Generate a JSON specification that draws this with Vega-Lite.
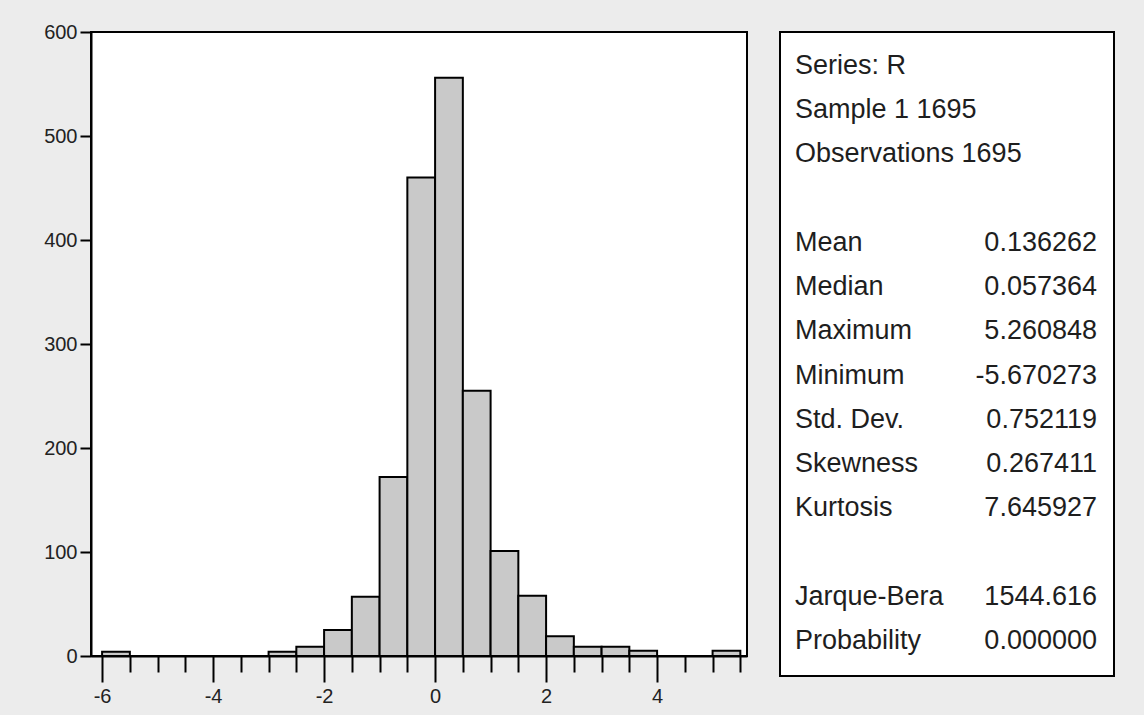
{
  "$schema": "https://vega.github.io/schema/vega-lite/v6.json",
  "background": "#ececec",
  "padding": {"left": 42, "top": 21, "right": 32, "bottom": 8},
  "bounds": "flush",
  "spacing": 33,
  "config": {
    "view": {"fill": "white", "stroke": "black", "strokeWidth": 2},
    "font": "Liberation Sans"
  },
  "hconcat": [
    {
      "width": 656,
      "height": 624,
      "data": {"values": [
        {"bin_start": -6, "bin_end": -5.5, "count": 4},
        {"bin_start": -3, "bin_end": -2.5, "count": 4},
        {"bin_start": -2.5, "bin_end": -2, "count": 9},
        {"bin_start": -2, "bin_end": -1.5, "count": 25},
        {"bin_start": -1.5, "bin_end": -1, "count": 57},
        {"bin_start": -1, "bin_end": -0.5, "count": 172},
        {"bin_start": -0.5, "bin_end": 0, "count": 460},
        {"bin_start": 0, "bin_end": 0.5, "count": 556},
        {"bin_start": 0.5, "bin_end": 1, "count": 255},
        {"bin_start": 1, "bin_end": 1.5, "count": 101},
        {"bin_start": 1.5, "bin_end": 2, "count": 58},
        {"bin_start": 2, "bin_end": 2.5, "count": 19},
        {"bin_start": 2.5, "bin_end": 3, "count": 9},
        {"bin_start": 3, "bin_end": 3.5, "count": 9},
        {"bin_start": 3.5, "bin_end": 4, "count": 5},
        {"bin_start": 5, "bin_end": 5.5, "count": 5}
      ]},
      "layer": [
        {
          "mark": {"type": "bar", "fill": "#c9c9c9", "stroke": "black", "strokeWidth": 2},
          "encoding": {
            "x": {
              "field": "bin_start",
              "type": "quantitative",
              "scale": {"domain": [-6.2, 5.62], "nice": false, "zero": false},
              "axis": {
                "orient": "bottom",
                "values": [-6, -4, -2, 0, 2, 4],
                "title": null,
                "grid": false,
                "domainColor": "black",
                "domainWidth": 2,
                "tickColor": "black",
                "tickWidth": 2,
                "tickSize": 26,
                "labelExpr": "'' + datum.value",
                "labelFontSize": 20,
                "labelPadding": 4,
                "labelColor": "#222222",
                "labelFlush": false,
                "labelOverlap": false
              }
            },
            "x2": {"field": "bin_end"},
            "y": {
              "field": "count",
              "type": "quantitative",
              "scale": {"domain": [0, 600], "nice": false},
              "axis": {
                "values": [0, 100, 200, 300, 400, 500, 600],
                "title": null,
                "grid": false,
                "domainColor": "black",
                "domainWidth": 2,
                "tickColor": "black",
                "tickWidth": 2,
                "tickSize": 11,
                "labelFontSize": 20,
                "labelPadding": 3,
                "labelColor": "#222222",
                "labelFlush": false
              }
            },
            "y2": {"datum": 0}
          }
        },
        {
          "mark": {"type": "bar", "opacity": 0},
          "encoding": {
            "x": {
              "field": "bin_start",
              "type": "quantitative",
              "axis": {
                "orient": "bottom",
                "values": [-5.5, -5, -4.5, -3.5, -3, -2.5, -1.5, -1, -0.5, 0.5, 1, 1.5, 2.5, 3, 3.5, 4.5, 5, 5.5],
                "title": null,
                "grid": false,
                "domain": false,
                "labels": false,
                "tickColor": "black",
                "tickWidth": 2,
                "tickSize": 16
              }
            },
            "x2": {"field": "bin_end"},
            "y": {"field": "count", "type": "quantitative"},
            "y2": {"datum": 0}
          }
        }
      ],
      "resolve": {"axis": {"x": "independent"}}
    },
    {
      "width": 334,
      "height": 644,
      "data": {"values": [
        {"row": 0, "label": "Series: R", "value": ""},
        {"row": 1, "label": "Sample 1 1695", "value": ""},
        {"row": 2, "label": "Observations 1695", "value": ""},
        {"row": 4, "label": "Mean", "value": "0.136262"},
        {"row": 5, "label": "Median", "value": "0.057364"},
        {"row": 6, "label": "Maximum", "value": "5.260848"},
        {"row": 7, "label": "Minimum", "value": "-5.670273"},
        {"row": 8, "label": "Std. Dev.", "value": "0.752119"},
        {"row": 9, "label": "Skewness", "value": "0.267411"},
        {"row": 10, "label": "Kurtosis", "value": "7.645927"},
        {"row": 12, "label": "Jarque-Bera", "value": "1544.616"},
        {"row": 13, "label": "Probability", "value": "0.000000"}
      ]},
      "layer": [
        {
          "mark": {"type": "text", "align": "left", "baseline": "middle", "fontSize": 27, "color": "#1e1e1e"},
          "encoding": {
            "x": {"datum": 0, "type": "quantitative", "scale": {"domain": [-0.0497, 1.0563], "nice": false, "zero": false}, "axis": null},
            "y": {"field": "row", "type": "quantitative", "scale": {"domain": [-0.769, 13.79], "reverse": true, "nice": false, "zero": false}, "axis": null},
            "text": {"field": "label"}
          }
        },
        {
          "mark": {"type": "text", "align": "right", "baseline": "middle", "fontSize": 27, "color": "#1e1e1e"},
          "encoding": {
            "x": {"datum": 1, "type": "quantitative", "axis": null},
            "y": {"field": "row", "type": "quantitative", "axis": null},
            "text": {"field": "value"}
          }
        }
      ]
    }
  ]
}
